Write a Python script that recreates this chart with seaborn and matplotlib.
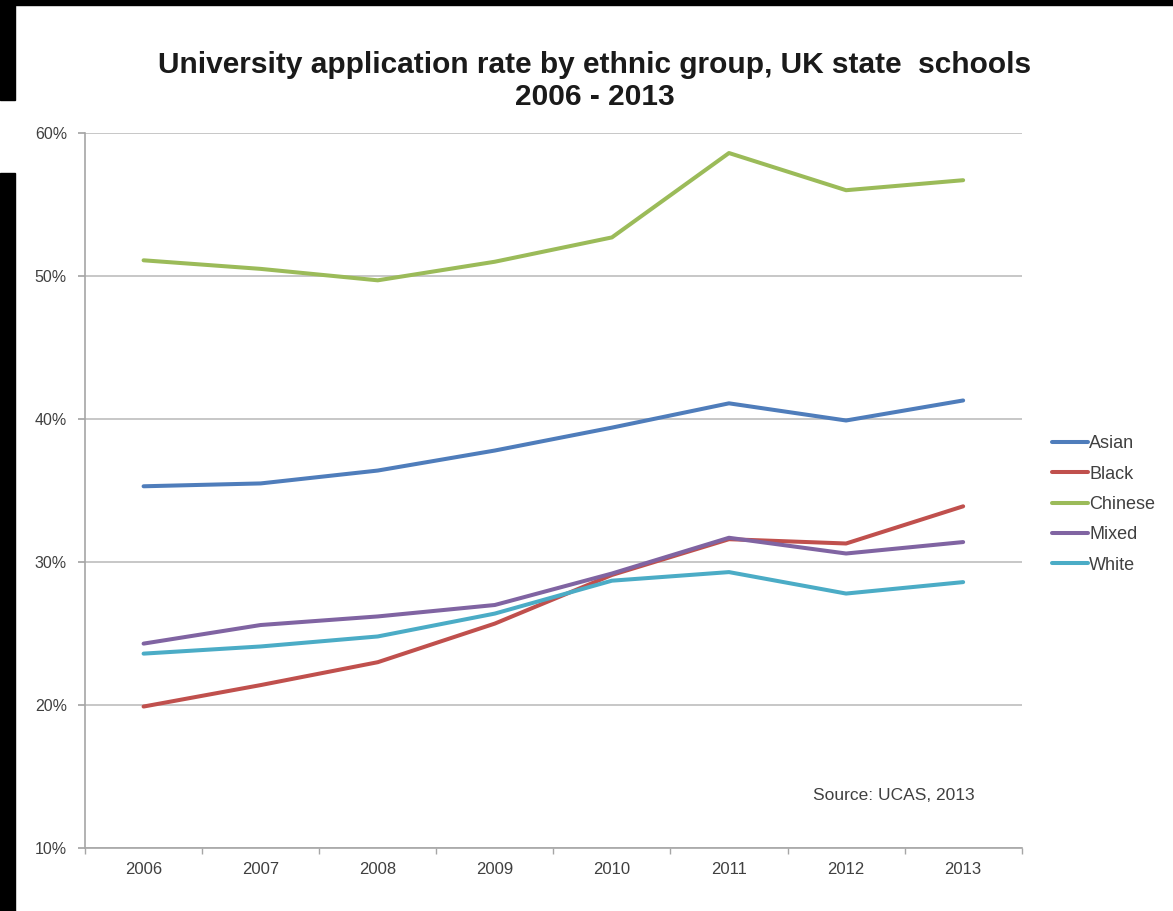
import matplotlib
matplotlib.use("Agg")
import matplotlib.pyplot as plt
import seaborn as sns
import pandas as pd
from matplotlib.patches import Rectangle
from matplotlib.ticker import FixedLocator, FuncFormatter

years = ["2006", "2007", "2008", "2009", "2010", "2011", "2012", "2013"]
asian = [35.3, 35.5, 36.4, 37.8, 39.4, 41.1, 39.9, 41.3]
black = [19.9, 21.4, 23.0, 25.7, 29.1, 31.6, 31.3, 33.9]
chinese = [51.1, 50.5, 49.7, 51.0, 52.7, 58.6, 56.0, 56.7]
mixed = [24.3, 25.6, 26.2, 27.0, 29.2, 31.7, 30.6, 31.4]
white = [23.6, 24.1, 24.8, 26.4, 28.7, 29.3, 27.8, 28.6]
groups = ["Asian", "Black", "Chinese", "Mixed", "White"]
colors = ["#4F7DBB", "#C0504D", "#9BBB59", "#8064A2", "#4BACC6"]
y_ticks = [10, 20, 30, 40, 50, 60]
title = "University application rate by ethnic group, UK state  schools\n2006 - 2013"
source = "Source: UCAS, 2013"

series = dict(zip(groups, [asian, black, chinese, mixed, white]))
df = pd.DataFrame(
    [(y, g, v) for g in groups for y, v in zip(years, series[g])],
    columns=["year", "group", "rate"],
)

sns.set_theme(style="white")
plt.rcParams["font.family"] = ["Liberation Sans", "DejaVu Sans"]

fig = plt.figure(figsize=(11.73, 9.11), dpi=100)
fig.patch.set_facecolor("white")
ax = fig.add_axes([0.0725, 0.069, 0.7985, 0.785])

sns.lineplot(data=df, x="year", y="rate", hue="group", palette=colors,
             hue_order=groups, linewidth=2.9, ax=ax, legend=False,
             sort=False)

ax.set_xlim(-0.5, 7.5)
ax.set_ylim(10, 60)
ax.yaxis.set_major_locator(FixedLocator(y_ticks))
ax.yaxis.set_major_formatter(FuncFormatter(lambda v, p: f"{int(v)}%"))
ax.grid(axis="y", color="#BDBDBD", linewidth=1.2)
ax.grid(axis="x", visible=False)
ax.set_axisbelow(True)
for s in ["top", "right"]:
    ax.spines[s].set_visible(False)
for s in ["left", "bottom"]:
    ax.spines[s].set_color("#A6A6A6")
    ax.spines[s].set_linewidth(1.2)
ax.set_xlabel("")
ax.set_ylabel("")
ax.set_xticks(range(len(years)))
ax.set_xticklabels(years)
ax.set_xticks([i - 0.5 for i in range(len(years) + 1)], minor=True)
ax.tick_params(axis="x", which="major", length=0, pad=10, labelsize=12,
               labelcolor="#404040")
ax.tick_params(axis="x", which="minor", length=4, color="#A6A6A6",
               direction="out", bottom=True)
ax.tick_params(axis="y", which="major", length=5, color="#A6A6A6",
               direction="out", left=True, pad=8, labelsize=11.5,
               labelcolor="#404040")

handles = [plt.Line2D([], [], color=c, linewidth=2.9) for c in colors]
fig.legend(handles, groups, loc="upper left",
           bbox_to_anchor=(1045 / 1173, 1 - 428 / 911),
           frameon=False, fontsize=13, handlelength=2.0,
           handletextpad=0.05, labelspacing=0.74, borderaxespad=0,
           labelcolor="#404040")

fig.text(595 / 1173, 1 - 81 / 911, title, ha="center", va="center",
         fontsize=21.5, fontweight="bold", color="#1A1A1A",
         linespacing=1.2)
fig.text(894 / 1173, 1 - 795 / 911, source, ha="center", va="center",
         fontsize=12.5, color="#404040")

# black scan borders
fig.patches.append(Rectangle((0, 1 - 5 / 911), 1, 5 / 911,
                             transform=fig.transFigure, color="black",
                             zorder=10))
fig.patches.append(Rectangle((0, 1 - 100 / 911), 15 / 1173, 100 / 911,
                             transform=fig.transFigure, color="black",
                             zorder=10))
fig.patches.append(Rectangle((0, 0), 15 / 1173, 1 - 173 / 911,
                             transform=fig.transFigure, color="black",
                             zorder=10))

fig.savefig("out.png", dpi=100)
